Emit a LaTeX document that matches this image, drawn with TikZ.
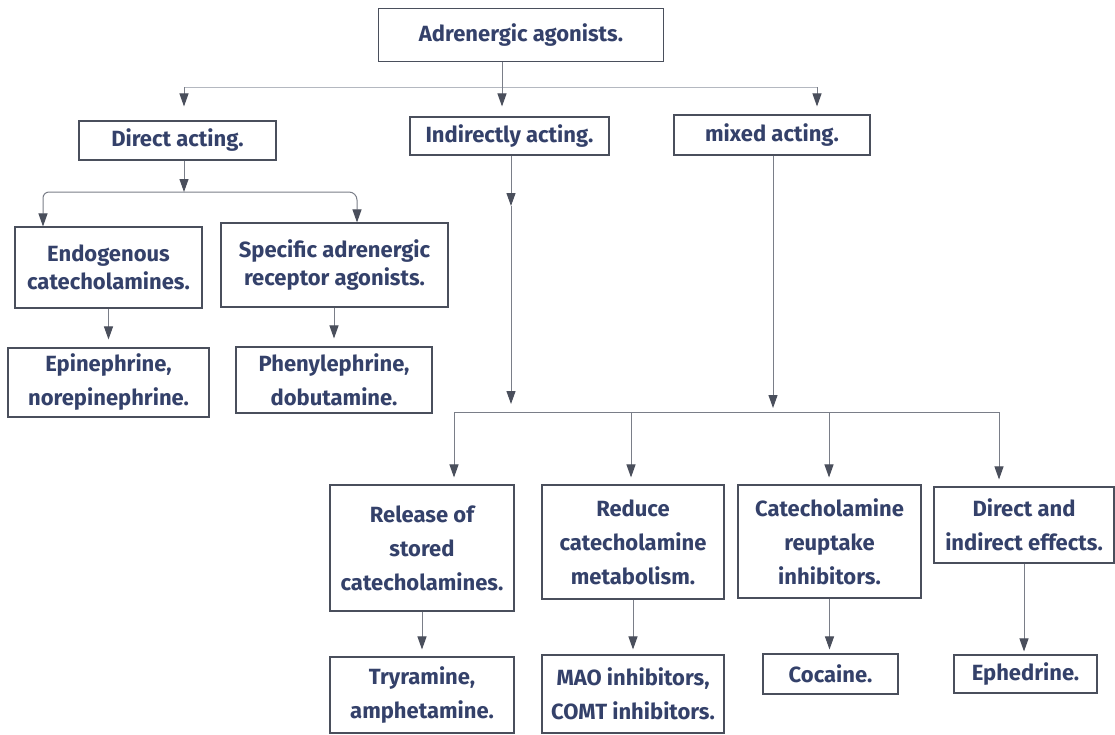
\documentclass[tikz,border=0pt]{standalone}
\usepackage{fontspec}
\setmainfont{Fira Sans}
\usepackage{tikz}
\usetikzlibrary{arrows.meta,calc}

\definecolor{ink}{HTML}{34416A}
\definecolor{frame}{HTML}{4A4F5C}
\definecolor{wire}{HTML}{7A7E88}
\definecolor{wirelight}{HTML}{B4B8C0}

\tikzset{
  box/.style={draw=frame, line width=1.1pt, text=ink, align=center, inner sep=0pt,
    font=\fontsize{22}{34}\selectfont\bfseries},
  tightbox/.style={box, font=\fontsize{22}{28}\selectfont\bfseries},
  link/.style={draw=wire, line width=1pt},
  arr/.style={link, -{Triangle[length=13pt,width=9pt,color=frame]}},
}

\begin{document}
\begin{tikzpicture}[x=1pt,y=-1pt]
\useasboundingbox[fill=white] (0,0) rectangle (1115,734);

% level 0 and 1
\node[box, minimum width=285, minimum height=53] (top) at (521,35) {Adrenergic agonists.};
\node[box, minimum width=197, minimum height=39] (direct) at (177.5,140.5) {Direct acting.};
\node[box, minimum width=199, minimum height=38] (indirect) at (509.5,136) {Indirectly acting.};
\node[box, minimum width=196, minimum height=40] (mixed) at (772,135) {mixed acting.};

% direct acting branch
\node[tightbox, minimum width=187, minimum height=81] (endo) at (108.5,267.5) {Endogenous\\catecholamines.};
\node[tightbox, minimum width=227, minimum height=84] (spec) at (334.5,265) {Specific adrenergic\\receptor agonists.};
\node[box, minimum width=201, minimum height=69] (epi) at (108.5,382.5) {Epinephrine,\\norepinephrine.};
\node[box, minimum width=196, minimum height=66] (phen) at (334,380) {Phenylephrine,\\dobutamine.};

% indirect / mixed branch
\node[box, minimum width=184, minimum height=126] (release) at (422,548) {Release of\\stored\\catecholamines.};
\node[box, minimum width=182, minimum height=114] (reduce) at (633,542) {Reduce\\catecholamine\\metabolism.};
\node[box, minimum width=183, minimum height=113] (reuptake) at (829.5,541.5) {Catecholamine\\reuptake\\inhibitors.};
\node[box, minimum width=180, minimum height=76] (dirind) at (1024,525) {Direct and\\indirect effects.};
\node[box, minimum width=184, minimum height=76] (tyr) at (422,695) {Tryramine,\\amphetamine.};
\node[box, minimum width=182, minimum height=78] (mao) at (633,694) {MAO inhibitors,\\COMT inhibitors.};
\node[box, minimum width=135, minimum height=40] (cocaine) at (830.5,674) {Cocaine.};
\node[box, minimum width=143, minimum height=38] (ephed) at (1025.5,674) {Ephedrine.};

% bus points
\coordinate (busL) at (184,87);
\coordinate (busM) at (502,87);
\coordinate (busR) at (817,87);
\coordinate (brM) at (184,192);
\coordinate (brL) at (43,192);
\coordinate (brR) at (357,192);
\coordinate (lowL) at (454,412);
\coordinate (lowA) at (511,412);
\coordinate (lowB) at (631,412);
\coordinate (lowC) at (773,412);
\coordinate (lowD) at (829,412);
\coordinate (lowR) at (999,412);
\coordinate (midA) at (511,206);

\draw[link, draw=wirelight] (busL) -- (busR);
\draw[arr, shorten >=10pt] (top.south -| busM) -- (indirect.north -| busM);
\draw[arr, shorten >=14pt] (busL) -- (direct.north -| busL);
\draw[arr, shorten >=8pt] (busR) -- (mixed.north -| busR);

\draw[arr] (direct.south -| brM) -- (brM);
\draw[arr, rounded corners=6pt] (brM) -- (brL) -- (endo.north -| brL);
\draw[arr, rounded corners=8pt] (brM) -- (brR) -- (spec.north -| brR);
\draw[arr, shorten >=8pt] (epi.north |- endo.south) -- (epi.north);
\draw[arr, shorten >=8pt] (phen.north |- spec.south) -- (phen.north);

\draw[arr] (indirect.south -| midA) -- (midA);
\draw[arr, shorten >=8pt] (midA) -- (lowA);
\draw[arr, shorten >=4pt] (mixed.south -| lowC) -- (lowC);
\draw[link] (lowL) -- (lowR);
\draw[arr, shorten >=7pt] (lowL) -- (release.north -| lowL);
\draw[arr, shorten >=7pt] (lowB) -- (reduce.north -| lowB);
\draw[arr, shorten >=7pt] (lowD) -- (reuptake.north -| lowD);
\draw[arr, shorten >=7pt] (lowR) -- (dirind.north -| lowR);

\draw[arr, shorten >=7pt] (release.south) -- (tyr.north);
\draw[arr, shorten >=5pt] (reduce.south) -- (mao.north);
\draw[arr, shorten >=4pt] (reuptake.south) -- (cocaine.north -| reuptake.south);
\draw[arr, shorten >=3pt] (dirind.south) -- (ephed.north -| dirind.south);
\end{tikzpicture}
\end{document}
